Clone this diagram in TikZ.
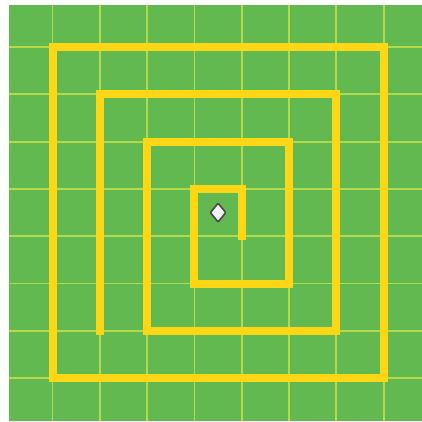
\documentclass[tikz,border=0pt]{standalone}
\usetikzlibrary{shapes.geometric}

\definecolor{fieldgreen}{HTML}{62B94F}
\definecolor{gridline}{HTML}{B4D94A}
\definecolor{pathyellow}{HTML}{FDD615}

\begin{document}
\begin{tikzpicture}[
  x=1cm, y=1cm,
  field/.style={fill=fieldgreen, draw=none},
  thin grid/.style={draw=gridline, line width=1.1pt},
  spiral/.style={draw=pathyellow, line width=4.8pt, line join=miter, line cap=rect},
  marker/.style={diamond, draw=black!70, fill=gray!8, line width=1pt, inner sep=0pt,
    minimum width=3.4mm, minimum height=4.1mm, rounded corners=0.6pt}
]

\useasboundingbox (-1.11,-0.907) rectangle (7.81,7.994);
\fill[white] (-1.11,-0.907) rectangle (7.81,7.994);

% playing field
\path[field] (-0.92,-0.907) rectangle (7.81,7.888);
\foreach \k in {0,...,7} {
  \draw[thin grid] (\k,-0.907) -- (\k,7.888);
  \draw[thin grid] (-0.92,\k) -- (7.81,\k);
}

% outer ring
\draw[spiral] (0,0) rectangle (7,7);

% spiral from the middle outwards
\draw[spiral] (4,3) -- (4,4) -- (3,4) -- (3,2) -- (5,2) -- (5,5) -- (2,5)
  -- (2,1) -- (6,1) -- (6,6) -- (1,6) -- (1,1);

\node[marker] (start) at (3.5,3.5) {};

\end{tikzpicture}
\end{document}
